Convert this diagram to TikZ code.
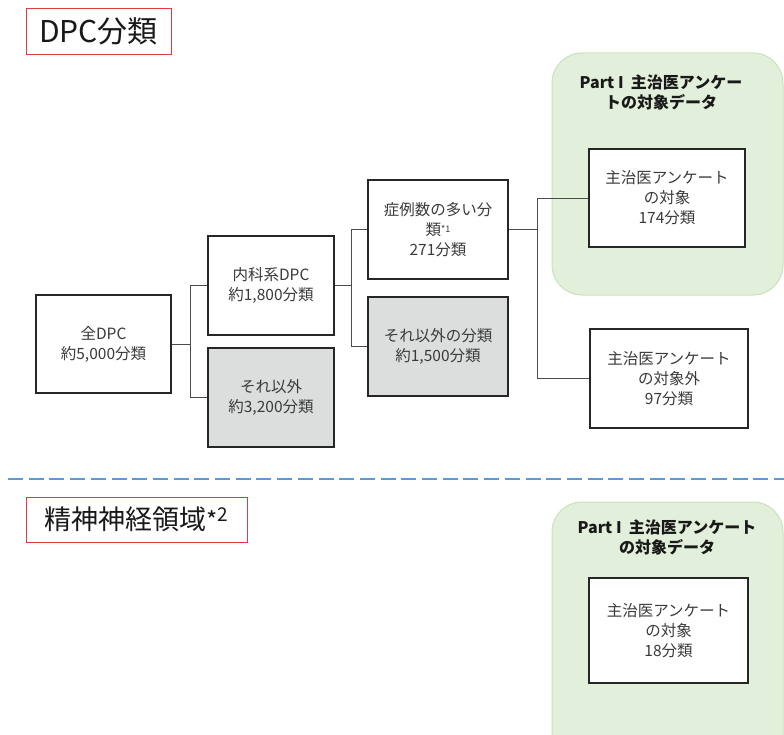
\documentclass[tikz,border=0pt]{standalone}
\usepackage{fontspec}
\setmainfont{Noto Sans CJK JP}
\usetikzlibrary{calc}
\definecolor{txt}{HTML}{3A3A3A}
\definecolor{greenfill}{HTML}{E2EFDA}
\definecolor{greenline}{HTML}{C9E2B8}
\definecolor{grayfill}{HTML}{DCDEDD}
\definecolor{redline}{HTML}{E03C3C}
\definecolor{dashblue}{HTML}{5B9BD5}
\tikzset{
  box/.style={draw=black!85, line width=1.1pt, fill=white, text=txt, align=center,
    font=\fontsize{15.5}{20}\selectfont, inner sep=1pt},
  graybox/.style={box, fill=grayfill},
  conn/.style={draw=black!70, line width=0.9pt},
  titlebox/.style={draw=redline, line width=0.8pt, fill=white, text=black!90, inner sep=0pt},
  greenbox/.style={draw=greenline, line width=1pt, fill=greenfill, rounded corners=30pt},
  parttitle/.style={align=center, font=\bfseries\fontsize{16}{20}\selectfont, text=black!90}
}
\begin{document}
\begin{tikzpicture}[x=1pt,y=-1pt]
\useasboundingbox (0,0) rectangle (784,735);
% green areas
\path[greenbox] (552,53) rectangle (783,295);
\path[greenbox] (552,502) rectangle (783,775);
\node[parttitle] (pt1) at (661,92) {Part I~~主治医アンケー\\トの対象データ};
\node[parttitle] (pt2) at (667,537) {Part I~~主治医アンケート\\の対象データ};
% titles
\node[titlebox, minimum width=145pt, minimum height=46pt, font=\fontsize{30}{32}\selectfont] (t1) at (98.5,31) {DPC分類};
\node[titlebox, minimum width=221pt, minimum height=45pt, font=\fontsize{27}{30}\selectfont] (t2) at (136.5,519.5) {精神神経領域{\fontsize{24}{24}\selectfont *}\raisebox{0.55ex}{\fontsize{19}{19}\selectfont 2}};
% dashed separator
\coordinate (dl) at (8,479);
\coordinate (dr) at (784,479);
\draw[dashblue, line width=2.4pt, dash pattern=on 15pt off 5.7pt] (dl) -- (dr);
% boxes
\node[box, minimum width=135pt, minimum height=98pt] (all) at (103.5,344) {全DPC\\約5,000分類};
\node[box, minimum width=126pt, minimum height=99pt] (naika) at (271,285.5) {内科系DPC\\約1,800分類};
\node[graybox, minimum width=126pt, minimum height=99pt] (sore1) at (271,397.5) {それ以外\\約3,200分類};
\node[box, minimum width=140pt, minimum height=99pt] (many) at (438,229.5) {症例数の多い分\\類{\fontsize{9}{9}\selectfont\raisebox{0.6ex}{*1}}\\271分類};
\node[graybox, minimum width=140pt, minimum height=99pt] (other) at (438,346.5) {それ以外の分類\\約1,500分類};
\node[box, minimum width=156pt, minimum height=98pt] (t174) at (667,198) {主治医アンケート\\の対象\\174分類};
\node[box, minimum width=158pt, minimum height=99pt] (t97) at (669,378.5) {主治医アンケート\\の対象外\\97分類};
\node[box, minimum width=159pt, minimum height=105pt] (t18) at (668.5,630.5) {主治医アンケート\\の対象\\18分類};
% connectors
\draw[conn] (all.east) -- +(19,0) |- (naika.west);
\draw[conn] (all.east) -- +(19,0) |- (sore1.west);
\draw[conn] (naika.east) -- +(17,0) |- (many.west);
\draw[conn] (naika.east) -- +(17,0) |- (other.west);
\draw[conn] (many.east) -- +(29,0) |- (t174.west);
\draw[conn] (many.east) -- +(29,0) |- (t97.west);
\end{tikzpicture}
\end{document}
